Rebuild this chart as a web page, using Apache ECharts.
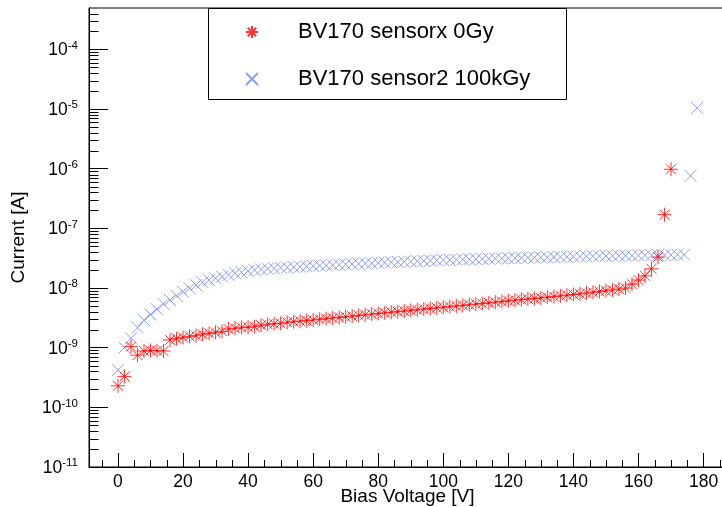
<!DOCTYPE html>
<html>
<head>
<meta charset="utf-8">
<script src="https://cdn.jsdelivr.net/npm/echarts@6/dist/echarts.min.js"></script>
<style>
  html, body { margin: 0; padding: 0; background: #fff; }
  #chart { width: 722px; height: 507px; }
</style>
</head>
<body>
<div id="chart"></div>
<script>
// Leakage current vs. bias voltage for two sensors
const sensorxVoltage = [
  0, 2, 4, 6, 8, 10, 12, 14, 16, 18, 20, 22, 24, 26, 28, 30, 32, 34, 36, 38,
  40, 42, 44, 46, 48, 50, 52, 54, 56, 58, 60, 62, 64, 66, 68, 70, 72, 74, 76, 78,
  80, 82, 84, 86, 88, 90, 92, 94, 96, 98, 100, 102, 104, 106, 108, 110, 112, 114, 116, 118,
  120, 122, 124, 126, 128, 130, 132, 134, 136, 138, 140, 142, 144, 146, 148, 150, 152, 154, 156, 158,
  160, 162, 164, 166, 168, 170
];
const sensorxCurrent = [
  2.3e-10, 3.3e-10, 1.04e-9, 7.5e-10, 8.8e-10, 9.0e-10, 8.9e-10, 8.8e-10, 1.35e-9, 1.42e-9,
  1.49e-9, 1.55e-9, 1.59e-9, 1.68e-9, 1.74e-9, 1.81e-9, 1.88e-9, 2.06e-9, 2.11e-9, 2.2e-9,
  2.2e-9, 2.25e-9, 2.38e-9, 2.47e-9, 2.52e-9, 2.56e-9, 2.67e-9, 2.73e-9, 2.78e-9, 2.85e-9,
  2.92e-9, 3.0e-9, 3.07e-9, 3.15e-9, 3.22e-9, 3.3e-9, 3.38e-9, 3.47e-9, 3.56e-9, 3.65e-9,
  3.75e-9, 3.84e-9, 3.93e-9, 4.02e-9, 4.12e-9, 4.22e-9, 4.32e-9, 4.43e-9, 4.54e-9, 4.65e-9,
  4.77e-9, 4.88e-9, 5.0e-9, 5.12e-9, 5.25e-9, 5.38e-9, 5.5e-9, 5.65e-9, 5.8e-9, 5.95e-9,
  6.1e-9, 6.25e-9, 6.4e-9, 6.55e-9, 6.7e-9, 6.85e-9, 7.0e-9, 7.2e-9, 7.4e-9, 7.6e-9,
  7.8e-9, 8.0e-9, 8.25e-9, 8.5e-9, 8.75e-9, 9.0e-9, 9.3e-9, 9.6e-9, 1.0e-8, 1.16e-8,
  1.36e-8, 1.6e-8, 2.1e-8, 3.3e-8, 1.7e-7, 9.8e-7
];
const sensor2Voltage = [
  0, 2, 4, 6, 8, 10, 12, 14, 16, 18, 20, 22, 24, 26, 28, 30, 32, 34, 36, 38,
  40, 42, 44, 46, 48, 50, 52, 54, 56, 58, 60, 62, 64, 66, 68, 70, 72, 74, 76, 78,
  80, 82, 84, 86, 88, 90, 92, 94, 96, 98, 100, 102, 104, 106, 108, 110, 112, 114, 116, 118,
  120, 122, 124, 126, 128, 130, 132, 134, 136, 138, 140, 142, 144, 146, 148, 150, 152, 154, 156, 158,
  160, 162, 164, 166, 168, 170, 172, 174, 176, 178
];
const sensor2Current = [
  4.2e-10, 1.0e-9, 1.44e-9, 2.16e-9, 2.9e-9, 3.6e-9, 4.4e-9, 5.4e-9, 6.3e-9, 7.4e-9,
  8.7e-9, 9.9e-9, 1.12e-8, 1.25e-8, 1.36e-8, 1.46e-8, 1.55e-8, 1.66e-8, 1.77e-8, 1.84e-8,
  1.93e-8, 2.0e-8, 2.05e-8, 2.1e-8, 2.14e-8, 2.18e-8, 2.21e-8, 2.25e-8, 2.28e-8, 2.31e-8,
  2.34e-8, 2.37e-8, 2.4e-8, 2.43e-8, 2.46e-8, 2.49e-8, 2.52e-8, 2.55e-8, 2.58e-8, 2.61e-8,
  2.64e-8, 2.67e-8, 2.7e-8, 2.73e-8, 2.76e-8, 2.79e-8, 2.82e-8, 2.85e-8, 2.88e-8, 2.91e-8,
  2.94e-8, 2.96e-8, 2.99e-8, 3.01e-8, 3.03e-8, 3.06e-8, 3.08e-8, 3.1e-8, 3.12e-8, 3.14e-8,
  3.16e-8, 3.18e-8, 3.2e-8, 3.22e-8, 3.24e-8, 3.26e-8, 3.28e-8, 3.3e-8, 3.32e-8, 3.34e-8,
  3.36e-8, 3.38e-8, 3.4e-8, 3.41e-8, 3.43e-8, 3.45e-8, 3.46e-8, 3.48e-8, 3.5e-8, 3.51e-8,
  3.53e-8, 3.54e-8, 3.56e-8, 3.57e-8, 3.58e-8, 3.6e-8, 3.61e-8, 3.63e-8, 7.6e-7, 1.05e-5
];
const seriesNames = ['BV170 sensorx 0Gy', 'BV170 sensor2 100kGy'];
const xTitle = 'Bias Voltage [V]';
const yTitle = 'Current [A]';

// axis ranges
const xMin = -8.9, xMax = 186.9;
const yMin = 1e-11, yMax = 4.95e-4;
const decadeExponents = [-11, -10, -9, -8, -7, -6, -5, -4];
const logMinorSteps = [2, 3, 4, 5, 6, 7, 8, 9];
const xMinorStep = 5;

const FONT = '"Liberation Sans", Arial, Helvetica, sans-serif';
const RED = '#ff0000';
const BLUE = '#7084ee';

const ASTERISK = 'path://M-6,0L6,0M0,-6L0,6M-4.24,-4.24L4.24,4.24M-4.24,4.24L4.24,-4.24';
const CROSS = 'path://M-6,-6L6,6M-6,6L6,-6';

function zip(xs, ys) { return xs.map((x, i) => [x, ys[i]]); }

// minor tick positions: 2..9 within each decade on the log axis, every 5 V on the x axis
const yMinorTicks = [];
decadeExponents.forEach(e => logMinorSteps.forEach(k => {
  const v = k * Math.pow(10, e);
  if (v < yMax) yMinorTicks.push([xMin, v]);
}));
const xMinorTicks = [];
for (let v = Math.ceil(xMin / xMinorStep) * xMinorStep; v < xMax; v += xMinorStep) {
  if (v % 20 !== 0) xMinorTicks.push([v, yMin]);
}

function tickRenderer(dir, len) {
  return function (params, api) {
    const p = api.coord([api.value(0), api.value(1)]);
    const x = Math.round(p[0]) + 0.5, y = Math.round(p[1]) + 0.5;
    const shape = dir === 'y'
      ? { x1: x - 0.5, y1: y, x2: x - 0.5 + len, y2: y }
      : { x1: x, y1: y - 0.5, x2: x, y2: y - 0.5 - len };
    return { type: 'line', shape: shape, style: { stroke: '#000', lineWidth: 1 }, silent: true };
  };
}

const chart = echarts.init(document.getElementById('chart'), null, { renderer: 'canvas' });
chart.setOption({
  animation: false,
  backgroundColor: '#fff',
  textStyle: { fontFamily: FONT },
  grid: {
    left: 89, top: 8, right: -4, bottom: 40,
    outerBoundsMode: 'none', containLabel: false,
    show: true, borderColor: '#000', borderWidth: 1, backgroundColor: 'transparent'
  },
  legend: {
    data: seriesNames,
    orient: 'vertical',
    left: 240, top: 15,
    itemWidth: 82, itemHeight: 12, itemGap: 23,
    textStyle: { fontFamily: FONT, fontSize: 22, color: '#000', lineHeight: 24 },
    selectedMode: false
  },
  graphic: [{
    type: 'rect',
    shape: { x: 208.5, y: 8.5, width: 358, height: 91 },
    style: { fill: 'none', stroke: '#000', lineWidth: 1 },
    z: 100
  }],
  xAxis: {
    type: 'value', min: xMin, max: xMax, splitNumber: 10,
    name: xTitle, nameLocation: 'middle', nameGap: 20, nameMoveOverlap: false,
    nameTextStyle: { fontFamily: FONT, fontSize: 19, color: '#000' },
    axisLine: { onZero: false, lineStyle: { color: '#000', width: 1 } },
    axisTick: { inside: true, length: 14, lineStyle: { color: '#000' } },
    axisLabel: { fontFamily: FONT, fontSize: 17.5, color: '#000', margin: 6,
                 showMinLabel: false, showMaxLabel: false },
    splitLine: { show: false }
  },
  yAxis: {
    type: 'log', logBase: 10, min: yMin, max: yMax, splitNumber: 8,
    name: yTitle, nameLocation: 'middle', nameGap: 61, nameRotate: 90, nameMoveOverlap: false,
    nameTextStyle: { fontFamily: FONT, fontSize: 19, color: '#000' },
    axisLine: { onZero: false, lineStyle: { color: '#000', width: 1 } },
    axisTick: { inside: true, length: 19, lineStyle: { color: '#000' } },
    axisLabel: {
      margin: 11, showMaxLabel: false,
      formatter: v => '{b|10}{s|' + Math.round(Math.log10(v)) + '}',
      rich: {
        b: { fontFamily: FONT, fontSize: 17.5, color: '#000', verticalAlign: 'bottom', lineHeight: 20 },
        s: { fontFamily: FONT, fontSize: 11.5, color: '#000', verticalAlign: 'top', lineHeight: 20, padding: [0, 0, 9, 0] }
      }
    },
    splitLine: { show: false }
  },
  series: [
    {
      name: seriesNames[1], type: 'scatter',
      data: zip(sensor2Voltage, sensor2Current),
      symbol: CROSS, symbolSize: 12, symbolKeepAspect: true,
      itemStyle: { color: BLUE, borderColor: BLUE, borderWidth: 1 },
      z: 3
    },
    {
      name: seriesNames[0], type: 'scatter',
      data: zip(sensorxVoltage, sensorxCurrent),
      symbol: ASTERISK, symbolSize: 14, symbolKeepAspect: true,
      itemStyle: { color: RED, borderColor: RED, borderWidth: 1 },
      z: 4
    },
    {
      type: 'custom', name: 'yMinorTicks', data: yMinorTicks,
      renderItem: tickRenderer('y', 9.5), silent: true, z: 5
    },
    {
      type: 'custom', name: 'xMinorTicks', data: xMinorTicks,
      renderItem: tickRenderer('x', 7), silent: true, z: 5
    }
  ]
});
</script>
</body>
</html>
